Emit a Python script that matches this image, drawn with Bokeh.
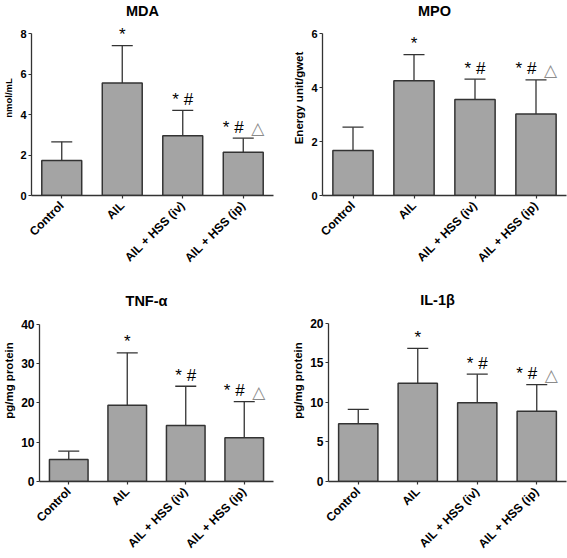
import math
from bokeh.plotting import figure
from bokeh.models import ColumnDataSource, Range1d, FactorRange, Whisker, TeeHead
from bokeh.layouts import column, row
from bokeh.core.properties import value
from bokeh.embed import file_html
from bokeh.resources import INLINE

# ---------------- data ----------------
categories = ["Control", "AIL", "AIL + HSS (iv)", "AIL + HSS (ip)"]

mda_mean = [1.73, 5.55, 2.95, 2.14]
mda_top = [2.65, 7.40, 4.20, 2.83]          # mean + SD
mda_ticks = [0, 2, 4, 6, 8]

mpo_mean = [1.67, 4.25, 3.56, 3.02]
mpo_top = [2.53, 5.22, 4.31, 4.28]
mpo_ticks = [0, 2, 4, 6]

tnf_mean = [5.6, 19.4, 14.2, 11.1]
tnf_top = [7.7, 32.7, 24.2, 20.3]
tnf_ticks = [0, 10, 20, 30, 40]

il_mean = [7.28, 12.4, 9.95, 8.88]
il_top = [9.10, 16.8, 13.55, 12.23]
il_ticks = [0, 5, 10, 15, 20]

marks = ["", "*", "* #", "* #"]
triangles = ["", "", "", "\u25B3"]

FONT = "Liberation Sans"
DARK = "#333333"


def panel(title, ylabel, means, tops, ticks, w, h, mb, top_pad, ylab_size, tick_size):
    ymax = ticks[-1]
    frame_h = h - mb[3]
    # extend the range above the top tick so the title can sit inside the frame
    y_end = ymax * frame_h / (frame_h - top_pad)
    src = ColumnDataSource(dict(
        cat=categories, mean=means, top=tops, mark=marks, tri=triangles,
        moff=[-10 if t else 0 for t in triangles]))
    p = figure(x_range=FactorRange(*categories), y_range=Range1d(0, y_end),
               width=w, height=h, output_backend="svg",
               toolbar_location=None, tools="",
               min_border_left=mb[0], min_border_right=mb[1],
               min_border_top=0, min_border_bottom=mb[3])
    p.vbar(x="cat", top="mean", width=0.66, source=src,
           fill_color="#A4A4A4", line_color=DARK, line_width=1.5)
    wh = Whisker(source=src, base="cat", lower="mean", upper="top",
                 line_color=DARK, line_width=1.3, lower_head=None,
                 upper_head=TeeHead(size=21, line_color=DARK, line_width=1.3))
    p.add_layout(wh)
    p.text(x="cat", y="top", text="mark", source=src, x_offset="moff", y_offset=-11,
           text_align="center", text_baseline="alphabetic",
           text_font=value(FONT), text_font_size="17px", text_color="black")
    p.text(x="cat", y="top", text="tri", source=src, x_offset=8, y_offset=-10,
           text_align="left", text_baseline="alphabetic",
           text_font=value("DejaVu Sans"), text_font_size="17px", text_color="#8a8a8a")

    # panel title, centred over the bars, above the top tick
    p.text(x=[len(categories) / 2], y=[ymax], text=[title], x_offset=-10, y_offset=-23,
           text_align="center", text_baseline="alphabetic",
           text_font=value(FONT), text_font_size="14.5px",
           text_font_style="bold", text_color="black")

    p.yaxis.ticker = ticks
    p.yaxis.bounds = (0, ymax)
    p.yaxis.axis_label = ylabel
    p.yaxis.axis_label_text_font = FONT
    p.yaxis.axis_label_text_font_style = "bold"
    p.yaxis.axis_label_text_font_size = ylab_size
    p.yaxis.axis_label_text_color = "black"
    p.yaxis.axis_label_standoff = 3
    p.xaxis.major_label_orientation = math.pi / 4
    for ax in (p.xaxis, p.yaxis):
        ax.axis_line_color = DARK
        ax.axis_line_width = 1.3
        ax.major_tick_line_color = DARK
        ax.major_tick_line_width = 1.2
        ax.major_tick_out = 3
        ax.major_tick_in = 0
        ax.minor_tick_line_color = None
        ax.major_label_text_font = FONT
        ax.major_label_text_font_style = "bold"
        ax.major_label_text_color = "black"
    p.yaxis.major_label_standoff = 2
    p.xaxis.major_label_standoff = 5
    p.yaxis.major_label_text_font_size = tick_size
    p.xaxis.major_label_text_font_size = "12px"
    p.xgrid.visible = False
    p.ygrid.visible = False
    p.outline_line_color = None
    return p


p1 = panel("MDA", "nmol/mL", mda_mean, mda_top, mda_ticks, 283, 279, (31, 10, 0, 84), 33, "9.5px", "11px")
p2 = panel("MPO", "Energy unit/gwet", mpo_mean, mpo_top, mpo_ticks, 284, 279, (39, 1, 0, 84), 33, "11.5px", "11px")
p3 = panel("TNF-\u03b1", "pg/mg protein", tnf_mean, tnf_top, tnf_ticks, 283, 279, (34, 10, 0, 75), 45, "11.5px", "12px")
p4 = panel("IL-1\u03b2", "pg/mg protein", il_mean, il_top, il_ticks, 284, 279, (45, 1, 0, 75), 44, "11.5px", "12px")

layout = column(row(p1, p2, spacing=0), row(p3, p4, spacing=0), spacing=0)

open("out.html", "w").write(file_html(layout, INLINE))
